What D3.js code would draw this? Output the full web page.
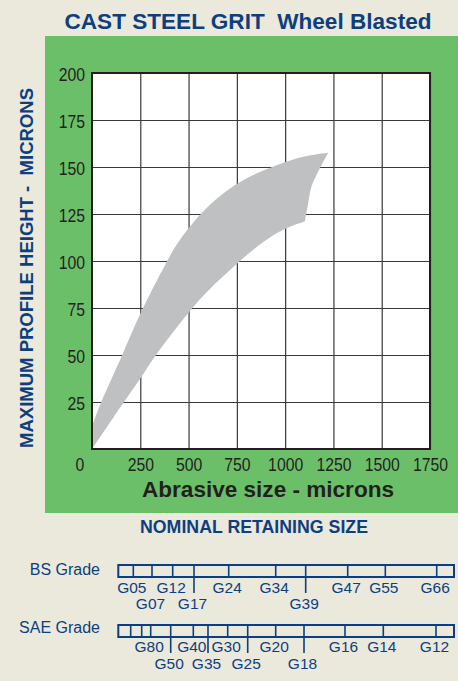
<html>
<head>
<meta charset="utf-8">
<script src="https://d3js.org/d3.v7.min.js"></script>
<style>
  body { margin: 0; background: #ebe8dc; }
  svg { display: block; }
</style>
</head>
<body>
<div id="chart"></div>
<script>
// chart values
var xTicks = [250, 500, 750, 1000, 1250, 1500, 1750];
var yTicks = [25, 50, 75, 100, 125, 150, 175, 200];

// outline of the grey band, abrasive size (x) vs profile height (y), microns
var upperEdge = [[0, 12], [48, 25], [152, 49], [255, 73], [384, 99], [450, 110.5], [550, 123.5], [628, 131.5],
                 [700, 137.5], [780, 142.8], [869, 147.3], [998, 152.5], [1111, 155.8], [1223, 157.6]];
var rightEdge = [[1223, 157.6], [1171, 147.5], [1136, 139.5], [1119, 130.7], [1102, 121]];
var lowerEdge = [[1102, 121], [1050, 119.3], [998, 117], [921, 112.5], [835, 106], [750, 98.5], [600, 84],
                 [500, 72.5], [324, 49], [250, 37.5], [152, 23], [0, 0]];

// grade bars: position along bar (0-100), label, label row, long tick
var bsGrades = [
  {pos: 4.47, name: "G05", row: 1, tall: false},
  {pos: 10.04, name: "G07", row: 2, tall: false},
  {pos: 16.2, name: "G12", row: 1, tall: false},
  {pos: 22.55, name: "G17", row: 2, tall: true},
  {pos: 32.89, name: "G24", row: 1, tall: false},
  {pos: 46.89, name: "G34", row: 1, tall: false},
  {pos: 55.82, name: "G39", row: 2, tall: true},
  {pos: 68.34, name: "G47", row: 1, tall: false},
  {pos: 79.54, name: "G55", row: 1, tall: false},
  {pos: 94.85, name: "G66", row: 1, tall: false}
];
var saeGrades = [
  {pos: 3.69, name: "", row: 1, tall: false},
  {pos: 6.97, name: "", row: 1, tall: false},
  {pos: 9.65, name: "G80", row: 1, tall: false},
  {pos: 15.61, name: "G50", row: 2, tall: true},
  {pos: 22.34, name: "G40", row: 1, tall: false},
  {pos: 26.72, name: "G35", row: 2, tall: true},
  {pos: 32.59, name: "G30", row: 1, tall: false},
  {pos: 38.55, name: "G25", row: 2, tall: true},
  {pos: 46.89, name: "G20", row: 1, tall: false},
  {pos: 55.32, name: "G18", row: 2, tall: true},
  {pos: 67.53, name: "G16", row: 1, tall: false},
  {pos: 78.94, name: "G14", row: 1, tall: false},
  {pos: 94.64, name: "G12", row: 1, tall: false}
];

var blue = "#0d3f7f";
var dark = "#231f20";
var sans = "Liberation Sans, Arial, sans-serif";

var svg = d3.select("#chart").append("svg")
  .attr("width", 458).attr("height", 681);

svg.append("rect").attr("width", 458).attr("height", 681).attr("fill", "#ebe8dc");
svg.append("rect").attr("x", 45).attr("y", 36).attr("width", 413).attr("height", 477).attr("fill", "#6cbf69");

// squeeze a text to look like a condensed face
function narrow(sel, k) {
  sel.each(function() {
    var w = this.getComputedTextLength();
    d3.select(this).attr("textLength", w * k).attr("lengthAdjust", "spacingAndGlyphs");
  });
}

// title
svg.append("text").attr("x", 248).attr("y", 29).attr("text-anchor", "middle")
  .style("font-family", sans).style("font-weight", "bold").style("font-size", "21.5px")
  .attr("fill", blue).attr("xml:space", "preserve")
  .attr("textLength", 367).attr("lengthAdjust", "spacingAndGlyphs")
  .text("CAST STEEL GRIT  Wheel Blasted");

var x = d3.scaleLinear().domain([0, 1750]).range([92, 430]);
var y = d3.scaleLinear().domain([0, 200]).range([449, 73]);

svg.append("rect").attr("x", x(0)).attr("y", y(200))
  .attr("width", x(1750) - x(0)).attr("height", y(0) - y(200)).attr("fill", "#fff");

// grid + tick labels
var gx = svg.append("g").attr("transform", "translate(0," + y(0) + ")")
  .call(d3.axisBottom(x).tickValues(xTicks).tickFormat(d3.format("d"))
    .tickSize(-(y(0) - y(200))).tickPadding(8.5));
var gy = svg.append("g").attr("transform", "translate(" + x(0) + ",0)")
  .call(d3.axisLeft(y).tickValues(yTicks).tickFormat(d3.format("d"))
    .tickSize(-(x(1750) - x(0))).tickPadding(7));

[gx, gy].forEach(function(g) {
  g.select(".domain").remove();
  g.selectAll(".tick line").attr("stroke", "#3a3a3a").attr("stroke-width", 1.2);
  g.selectAll(".tick text").attr("fill", dark)
    .style("font-family", sans).style("font-size", "19px");
  narrow(g.selectAll(".tick text"), 0.83);
});
gy.selectAll(".tick text").attr("dy", "0.37em");

var zero = svg.append("text").attr("x", 80).attr("y", 471).attr("text-anchor", "middle")
  .style("font-family", sans).style("font-size", "19px")
  .attr("fill", dark).text("0");
narrow(zero, 0.83);

// grey band
var line = d3.line().x(function(d) { return x(d[0]); }).y(function(d) { return y(d[1]); })
  .curve(d3.curveCatmullRom.alpha(0.5));
var band = line(upperEdge) + line(rightEdge).replace(/^M/, "L") + line(lowerEdge).replace(/^M/, "L") + "Z";
svg.append("path").attr("d", band).attr("fill", "#bfc0c2");

// plot border
svg.append("rect").attr("x", x(0)).attr("y", y(200))
  .attr("width", x(1750) - x(0)).attr("height", y(0) - y(200))
  .attr("fill", "none").attr("stroke", dark).attr("stroke-width", 2);

// axis titles
svg.append("text").attr("x", 268).attr("y", 497).attr("text-anchor", "middle")
  .style("font-family", sans).style("font-weight", "bold").style("font-size", "22px")
  .attr("textLength", 252).attr("lengthAdjust", "spacingAndGlyphs")
  .attr("fill", dark).text("Abrasive size - microns");

svg.append("text").attr("transform", "translate(33,268) rotate(-90)").attr("text-anchor", "middle")
  .style("font-family", sans).style("font-weight", "bold").style("font-size", "18px")
  .attr("fill", blue).attr("xml:space", "preserve")
  .attr("textLength", 360).attr("lengthAdjust", "spacingAndGlyphs")
  .text("MAXIMUM PROFILE HEIGHT -  MICRONS");

svg.append("text").attr("x", 254).attr("y", 533).attr("text-anchor", "middle")
  .style("font-family", sans).style("font-weight", "bold").style("font-size", "17.5px")
  .attr("textLength", 228).attr("lengthAdjust", "spacingAndGlyphs")
  .attr("fill", blue).text("NOMINAL RETAINING SIZE");

// grade bars
var g = d3.scaleLinear().domain([0, 100]).range([118.3, 454]);

function gradeBar(top, title, titleY, grades, tallTo, row1, row2) {
  svg.append("text").attr("x", 100).attr("y", titleY).attr("text-anchor", "end")
    .style("font-family", sans).style("font-size", "16px")
    .attr("fill", blue).text(title);
  svg.append("rect").attr("x", g(0)).attr("y", top).attr("width", g(100) - g(0)).attr("height", 12)
    .attr("fill", "none").attr("stroke", blue).attr("stroke-width", 2);
  svg.selectAll(null).data(grades).enter().append("line")
    .attr("x1", function(d) { return g(d.pos); }).attr("x2", function(d) { return g(d.pos); })
    .attr("y1", top).attr("y2", function(d) { return d.tall ? tallTo : top + 12; })
    .attr("stroke", blue).attr("stroke-width", 1.6);
  svg.selectAll(null).data(grades).enter().append("text")
    .attr("x", function(d) { return g(d.pos) - 1.5; })
    .attr("y", function(d) { return d.row === 1 ? row1 : row2; })
    .attr("text-anchor", "middle")
    .style("font-family", sans).style("font-size", "15.5px")
    .attr("fill", blue).text(function(d) { return d.name; });
}

gradeBar(565, "BS Grade", 575, bsGrades, 593, 593.3, 609.3);
gradeBar(625, "SAE Grade", 633.3, saeGrades, 653, 651.7, 669.3);
</script>
</body>
</html>
